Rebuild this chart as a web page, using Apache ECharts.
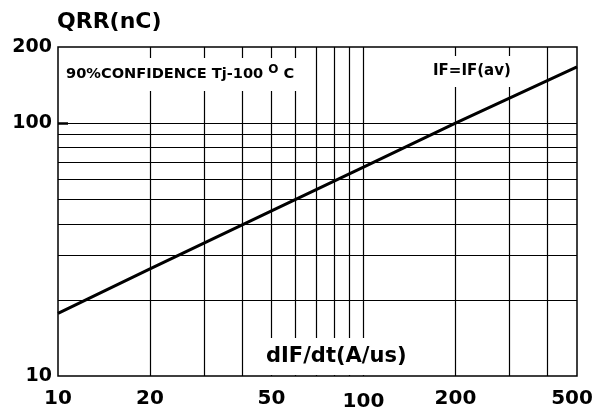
<!DOCTYPE html>
<html>
<head>
<meta charset="utf-8">
<script src="https://cdn.jsdelivr.net/npm/echarts@6/dist/echarts.min.js"></script>
<style>html,body{margin:0;padding:0;background:#fff}#c{width:602px;height:412px}</style>
</head>
<body>
<div id="c"></div>
<script>
// Data
var dIFdt = [10, 20, 50, 100, 200, 500];
var qrr = [17.7, 26.5, 45, 67, 100, 167];
var xTickLabels = [10, 20, 50, 100, 200, 500];
var yTickLabels = [10, 100, 200];
var xGrid = [20, 30, 40, 50, 60, 70, 80, 90, 100, 200, 300, 400];
var yGrid = [20, 30, 40, 50, 60, 70, 80, 90, 100];

var FONT = 'DejaVu Sans';
var chart = echarts.init(document.getElementById('c'), null, {renderer: 'canvas'});

var gridMarks = xGrid.map(function (v) { return {xAxis: v}; })
  .concat(yGrid.map(function (v) { return {yAxis: v}; }));

chart.setOption({
  animation: false,
  backgroundColor: '#fff',
  grid: {left: 58, right: 25, top: 47, bottom: 30, show: true, borderColor: '#000', borderWidth: 1.5, backgroundColor: 'transparent'},
  xAxis: {
    type: 'log', logBase: 10, min: 10, max: 500,
    axisLine: {show: false},
    axisTick: {show: false},
    splitLine: {show: false},
    minorSplitLine: {show: false},
    axisLabel: {
      customValues: xTickLabels,
      margin: 13,
      color: '#000', fontFamily: FONT, fontWeight: 'bold', fontSize: 20,
      formatter: function (v) {
        if (v === 500) return '{r|500}';
        if (v === 100) return '{d|100}';
        if (v === 50) return '{u|50}';
        return '' + v;
      },
      rich: {
        r: {fontFamily: FONT, fontWeight: 'bold', fontSize: 20, color: '#000', padding: [0, 10, 4, 0]},
        d: {fontFamily: FONT, fontWeight: 'bold', fontSize: 20, color: '#000', padding: [3, 0, 0, 0]},
        u: {fontFamily: FONT, fontWeight: 'bold', fontSize: 20, color: '#000', padding: [0, 0, 2, 0]}
      }
    }
  },
  yAxis: {
    type: 'log', logBase: 10, min: 10, max: 200,
    axisLine: {show: false},
    axisTick: {show: true, inside: true, length: 10, customValues: [100], lineStyle: {color: '#000', width: 2.5}},
    splitLine: {show: false},
    minorSplitLine: {show: false},
    axisLabel: {
      customValues: yTickLabels,
      margin: 6,
      color: '#000', fontFamily: FONT, fontWeight: 'bold', fontSize: 19
    }
  },
  series: [{
    type: 'line',
    data: dIFdt.map(function (x, i) { return [x, qrr[i]]; }),
    symbol: 'none',
    lineStyle: {color: '#000', width: 3},
    z: 3,
    markLine: {
      silent: true,
      symbol: 'none',
      label: {show: false},
      lineStyle: {color: '#000', width: 1.2, type: 'solid'},
      emphasis: {disabled: true},
      data: gridMarks,
      z: 2
    }
  }],
  graphic: [
    {type: 'text', left: 57, top: 11, z: 100,
      style: {text: 'QRR(nC)', fill: '#000', font: 'bold 22px "DejaVu Sans"'}},
    {type: 'text', left: 63, top: 58, z: 100,
      style: {
        text: '{a|90%CONFIDENCE Tj-100 }{s|O}{a| C}',
        backgroundColor: '#fff', padding: [8, 3, 8, 3],
        rich: {
          a: {fontFamily: FONT, fontWeight: 'bold', fontSize: 14.6, fill: '#000', color: '#000', lineHeight: 17},
          s: {fontFamily: FONT, fontWeight: 'bold', fontSize: 12, fill: '#000', color: '#000', lineHeight: 17, padding: [0, 0, 9, 0]}
        }
      }},
    {type: 'text', left: 430, top: 56, z: 100,
      style: {text: 'IF=IF(av)', fill: '#000', font: 'bold 15px "DejaVu Sans"', backgroundColor: '#fff', padding: [8, 3, 8, 3]}},
    {type: 'text', left: 263, top: 338, z: 100,
      style: {text: 'dIF/dt(A/us)', fill: '#000', font: 'bold 21px "DejaVu Sans"', backgroundColor: '#fff', padding: [8, 3, 8, 3]}}
  ]
});
</script>
</body>
</html>
